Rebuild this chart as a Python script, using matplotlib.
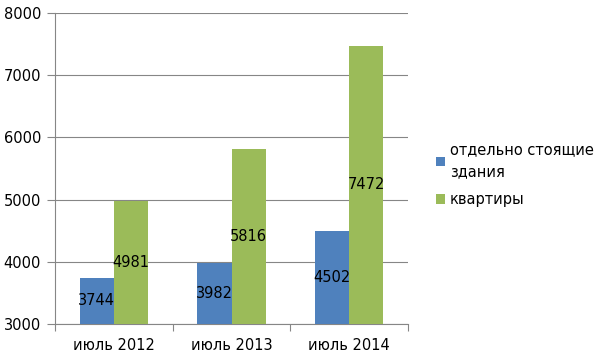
import matplotlib.pyplot as plt
import numpy as np

categories = ['июль 2012', 'июль 2013', 'июль 2014']
detached = [3744, 3982, 4502]
flats = [4981, 5816, 7472]
series_names = ['отдельно стоящие\nздания', 'квартиры']
colors = ['#4F81BD', '#9BBB59']

plt.rcParams['font.family'] = ['DejaVu Sans']
fig = plt.figure(figsize=(5.97, 3.59), dpi=100)
ax = fig.add_axes([55 / 597, 1 - 324 / 359, 353 / 597, 311 / 359])

x = np.arange(len(categories))
w = 0.29
base = 3000
for i, vals in enumerate([detached, flats]):
    pos = x + (i - 0.5) * w
    heights = [v - base for v in vals]
    ax.bar(pos, heights, w, bottom=base, color=colors[i], label=series_names[i], zorder=3)
    for p, v in zip(pos, vals):
        ax.text(p, base + (v - base) / 2, str(v), ha='center', va='center',
                fontsize=10.5, color='black', zorder=4)

ax.set_ylim(3000, 8000)
ax.set_xlim(-0.5, 2.5)
ax.set_yticks(range(3000, 8001, 1000))
ax.yaxis.grid(True, color='#868686', linewidth=0.8, zorder=0)
ax.set_xticks([-0.5, 0.5, 1.5, 2.5])
ax.set_xticklabels([])
ax.set_xticks(x, minor=True)
ax.set_xticklabels(categories, minor=True)
ax.tick_params(axis='x', which='minor', length=0, pad=10, labelsize=10.5)
ax.tick_params(axis='x', which='major', length=5, color='#868686')
ax.tick_params(axis='y', length=6, color='#868686', labelsize=10.5, pad=4)
for s in ['top', 'right']:
    ax.spines[s].set_visible(False)
ax.spines['left'].set_color('#868686')
ax.spines['bottom'].set_color('#868686')

leg = fig.legend(loc='upper left', bbox_to_anchor=(430 / 597, 1 - 136 / 359), frameon=False,
                 fontsize=10.5, handlelength=0.6, handleheight=0.6, handletextpad=0.35,
                 labelspacing=0.9, borderaxespad=0)
for t in leg.get_texts():
    t.set_linespacing(1.6)

fig.savefig('out.png', dpi=100)
